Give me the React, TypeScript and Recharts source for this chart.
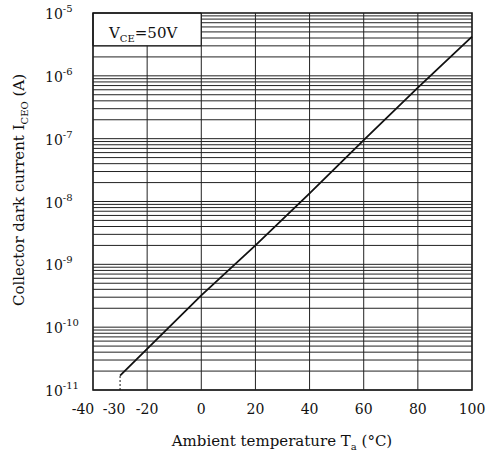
import { LineChart, Line, XAxis, YAxis, ReferenceLine, ReferenceArea } from 'recharts';

const temps = [-30, 0, 20, 40, 60, 80, 100];
const darkCurrent = [1.7e-11, 3.2e-10, 2.0e-9, 1.35e-8, 9.5e-8, 6.5e-7, 4.2e-6];
const dashTemps = [-30, -30];
const dashCurrent = [1e-11, 1.7e-11];

const xTicks = [-40, -30, -20, 0, 20, 40, 60, 80, 100];
const xGrid = [-20, 0, 20, 40, 60, 80];
const yExponents = [-11, -10, -9, -8, -7, -6, -5];
const yMultipliers = [2, 3, 4, 5, 6, 7, 8, 9];
const boxTemps = [-40, 0];
const boxCurrent = [3e-6, 1e-5];

const curve = temps.map((t, i) => ({ t, v: darkCurrent[i] }));
const dash = dashTemps.map((t, i) => ({ t, v: dashCurrent[i] }));
const yTicks = yExponents.map(e => Math.pow(10, e));
const yGrid: number[] = [];
yExponents.slice(0, -1).forEach(e => {
  yGrid.push(Math.pow(10, e));
  yMultipliers.forEach(m => yGrid.push(m * Math.pow(10, e)));
});

const FONT = '"DejaVu Serif", serif';
const xShift: Record<number, number> = { [-40]: -10, [-30]: -6 };

function XTick({ x, y, payload }: any) {
  const v = payload.value;
  return (
    <text x={x + (xShift[v] || 0)} y={y + 16} textAnchor='middle' fontFamily={FONT} fontSize={14} fill='#111'>
      {v}
    </text>
  );
}

function YTick({ y, payload }: any) {
  const exp = Math.round(Math.log10(payload.value));
  return (
    <text x={45} y={y + 6} textAnchor='start' fontFamily={FONT} fontSize={14} fill='#111'>
      10
      <tspan fontSize={10} dy={-7}>{exp}</tspan>
    </text>
  );
}

export default function App() {
  return (
    <div style={{ position: 'fixed', left: 0, top: 0, width: 489, height: 457, background: '#fff' }}>
      <LineChart width={489} height={457} margin={{ top: 13, right: 17, bottom: 0, left: 0 }}>
        <XAxis
          dataKey='t'
          type='number'
          domain={[-40, 100]}
          ticks={xTicks}
          tick={<XTick />}
          tickLine={false}
          axisLine={false}
          height={67}
          allowDuplicatedCategory={false}
        />
        <YAxis
          type='number'
          scale='log'
          domain={[1e-11, 1e-5]}
          ticks={yTicks}
          tick={<YTick />}
          tickLine={false}
          axisLine={false}
          width={93}
          allowDataOverflow
        />
        {yGrid.map(v => {
          const inBox = v > boxCurrent[0];
          return (
            <ReferenceLine
              key={`h${v}`}
              segment={[
                { x: inBox ? boxTemps[1] : -40, y: v },
                { x: 100, y: v },
              ]}
              stroke='#222'
              strokeWidth={1}
            />
          );
        })}
        {xGrid.map(v => (
          <ReferenceLine
            key={`v${v}`}
            segment={[
              { x: v, y: 1e-11 },
              { x: v, y: v < boxTemps[1] ? boxCurrent[0] : 1e-5 },
            ]}
            stroke='#222'
            strokeWidth={1}
          />
        ))}
        <ReferenceArea
          x1={boxTemps[0]}
          x2={boxTemps[1]}
          y1={boxCurrent[0]}
          y2={boxCurrent[1]}
          fill='none'
          stroke='#111'
          strokeWidth={1}
        />
        <ReferenceArea x1={-40} x2={100} y1={1e-11} y2={1e-5} fill='none' stroke='#111' strokeWidth={1.6} />
        <Line data={dash} dataKey='v' stroke='#111' strokeWidth={1} strokeDasharray='2 2' dot={false} isAnimationActive={false} />
        <Line data={curve} dataKey='v' stroke='#111' strokeWidth={1.8} dot={false} isAnimationActive={false} />
        <text x={109} y={38} fontFamily={FONT} fontSize={15} fill='#111'>
          V<tspan fontSize={10} dy={4}>CE</tspan>
          <tspan dy={-4}>=50V</tspan>
        </text>
        <text x={282} y={446} textAnchor='middle' fontFamily={FONT} fontSize={15} fill='#111'>
          Ambient temperature T<tspan fontSize={10} dy={4}>a</tspan>
          <tspan dy={-4}> (°C)</tspan>
        </text>
        <text
          x={0}
          y={0}
          transform='translate(24, 190) rotate(-90)'
          textAnchor='middle'
          fontFamily={FONT}
          fontSize={15}
          fill='#111'
        >
          Collector dark current I<tspan fontSize={10} dy={4}>CEO</tspan>
          <tspan dy={-4}> (A)</tspan>
        </text>
      </LineChart>
    </div>
  );
}
